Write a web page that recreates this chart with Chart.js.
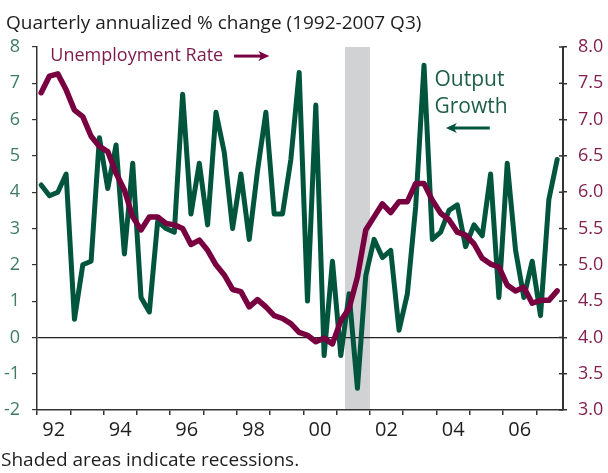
<!DOCTYPE html>
<html>
<head>
<meta charset="utf-8">
<script src="https://cdn.jsdelivr.net/npm/chart.js@4.4.1/dist/chart.umd.min.js"></script>
<style>
html,body{margin:0;padding:0;background:#fff;}
#wrap{position:relative;width:608px;height:473px;overflow:hidden;font-family:"Open Sans",sans-serif;}
#c{position:absolute;left:0;top:0;}
.txt{position:absolute;font-size:19px;line-height:19px;color:#1e1e1e;white-space:nowrap;}
#title{left:6px;top:13px;}
#note{left:1px;top:450px;}
</style>
</head>
<body>
<div id="wrap">
  <canvas id="c" width="608" height="473"></canvas>
  <div id="title" class="txt">Quarterly annualized % change (1992-2007 Q3)</div>
  <div id="note" class="txt">Shaded areas indicate recessions.</div>
</div>
<script>
// ---- data (quarterly, 1992 Q1 to 2007 Q3) ----
const startYear = 1992;
const outputGrowth = [
  4.2, 3.9, 4.0, 4.5,
  0.5, 2.0, 2.1, 5.5,
  4.1, 5.3, 2.3, 4.8,
  1.1, 0.7, 3.2, 3.0,
  2.9, 6.7, 3.4, 4.8,
  3.1, 6.2, 5.1, 3.0,
  4.5, 2.7, 4.6, 6.2,
  3.4, 3.4, 4.9, 7.3,
  1.0, 6.4, -0.5, 2.1,
  -0.5, 1.2, -1.4, 1.7,
  2.7, 2.2, 2.4, 0.2,
  1.2, 3.6, 7.5, 2.7,
  2.9, 3.5, 3.65, 2.5,
  3.1, 2.8, 4.5, 1.1,
  4.8, 2.4, 1.1, 2.1,
  0.6, 3.8, 4.9
];
const unemploymentRate = [
  7.37, 7.6, 7.63, 7.41,
  7.13, 7.04, 6.77, 6.63,
  6.56, 6.26, 6.03, 5.66,
  5.48, 5.66, 5.66, 5.57,
  5.55, 5.5, 5.28, 5.34,
  5.2, 5.0, 4.86, 4.66,
  4.63, 4.42, 4.52, 4.42,
  4.3, 4.26, 4.19, 4.07,
  4.03, 3.94, 3.99, 3.91,
  4.23, 4.4, 4.83, 5.48,
  5.66, 5.84, 5.72, 5.87,
  5.87, 6.12, 6.12, 5.89,
  5.71, 5.62, 5.45, 5.41,
  5.29, 5.09, 5.01, 4.97,
  4.72, 4.64, 4.69, 4.47,
  4.51, 4.51, 4.64
];
const recessions = [[2001.25, 2002.0]];
const yearTicks = [1992,1993,1994,1995,1996,1997,1998,1999,2000,2001,2002,2003,2004,2005,2006,2007];
const xLabelYears = [1992,1994,1996,1998,2000,2002,2004,2006];
const xTickLabels = ['92','94','96','98','00','02','04','06'];

// ---- styles ----
const GREEN = '#00553c';
const RED = '#780040';
const GREEN_LABEL = '#3f7c64';
const RED_LABEL = '#82204f';
const AXIS = '#333333';
const FONT = '"Open Sans", sans-serif';

Chart.defaults.font.family = FONT;

const qpos = i => startYear + (i + 0.5) / 4;

const recessionPlugin = {
  id: 'recessions',
  beforeDraw(chart) {
    const {ctx, chartArea: a, scales: {x}} = chart;
    ctx.save();
    ctx.fillStyle = '#d1d2d4';
    recessions.forEach(([s, e]) => {
      const x0 = x.getPixelForValue(s), x1 = x.getPixelForValue(e);
      ctx.fillRect(x0, a.top, x1 - x0, a.bottom - a.top);
    });
    ctx.restore();
  }
};

function arrow(ctx, x0, x1, y, color) {
  // x1 is the tip
  const dir = Math.sign(x1 - x0);
  ctx.save();
  ctx.strokeStyle = color;
  ctx.fillStyle = color;
  ctx.lineWidth = 3;
  ctx.beginPath();
  ctx.moveTo(x0, y);
  ctx.lineTo(x1 - dir * 6, y);
  ctx.stroke();
  ctx.beginPath();
  ctx.moveTo(x1, y);
  ctx.lineTo(x1 - dir * 11, y - 5);
  ctx.lineTo(x1 - dir * 8, y);
  ctx.lineTo(x1 - dir * 11, y + 5);
  ctx.closePath();
  ctx.fill();
  ctx.restore();
}

const notesPlugin = {
  id: 'notes',
  afterDraw(chart) {
    const {ctx, scales: {x, y}} = chart;
    ctx.save();
    ctx.textBaseline = 'middle';
    ctx.textAlign = 'left';
    ctx.font = '18px ' + FONT;
    ctx.fillStyle = '#7d1a4d';
    ctx.fillText('Unemployment Rate', x.getPixelForValue(1992.4), y.getPixelForValue(7.75));
    arrow(ctx, x.getPixelForValue(1997.92), x.getPixelForValue(1998.98), y.getPixelForValue(7.75), RED);
    ctx.font = '21px ' + FONT;
    ctx.fillStyle = '#1d5e48';
    ctx.fillText('Output', x.getPixelForValue(2003.94), y.getPixelForValue(7.1));
    ctx.fillText('Growth', x.getPixelForValue(2003.94), y.getPixelForValue(6.35));
    arrow(ctx, x.getPixelForValue(2005.6), x.getPixelForValue(2004.28), y.getPixelForValue(5.77), GREEN);
    // inner tick marks on the right axis
    const y2 = chart.scales.y2;
    ctx.strokeStyle = AXIS;
    ctx.lineWidth = 1.5;
    y2.ticks.forEach(t => {
      const py = y2.getPixelForValue(t.value);
      ctx.beginPath();
      ctx.moveTo(y2.left, py);
      ctx.lineTo(y2.left - 4, py);
      ctx.stroke();
    });
    ctx.restore();
  }
};

new Chart(document.getElementById('c'), {
  type: 'line',
  data: {
    datasets: [
      {
        label: 'Unemployment Rate',
        data: unemploymentRate.map((v, i) => ({x: qpos(i), y: v})),
        yAxisID: 'y2',
        borderColor: RED,
        borderWidth: 5.5,
        pointRadius: 0,
        tension: 0,
        borderJoinStyle: 'round',
        borderCapStyle: 'round',
        order: 0
      },
      {
        label: 'Output Growth',
        data: outputGrowth.map((v, i) => ({x: qpos(i), y: v})),
        yAxisID: 'y',
        borderColor: GREEN,
        borderWidth: 5,
        pointRadius: 0,
        tension: 0,
        borderJoinStyle: 'round',
        borderCapStyle: 'round',
        order: 1
      }
    ]
  },
  options: {
    responsive: false,
    animation: false,
    devicePixelRatio: 1,
    layout: {padding: {top: 47, left: 0, right: 0, bottom: 0}},
    plugins: {legend: {display: false}, tooltip: {enabled: false}},
    scales: {
      x: {
        type: 'linear',
        min: 1992,
        max: 2007.8,
        afterBuildTicks: s => {
          const vals = yearTicks.concat(xLabelYears.map(v => v + 0.5)).sort((a, b) => a - b);
          s.ticks = vals.map(v => ({value: v}));
        },
        afterFit: s => { s.height = 63; },
        ticks: {
          autoSkip: false,
          maxRotation: 0,
          padding: 3,
          color: '#1e1e1e',
          font: {size: 20},
          callback: v => {
            const k = xLabelYears.indexOf(v - 0.5);
            return k >= 0 ? xTickLabels[k] : '';
          }
        },
        grid: {
          drawOnChartArea: false,
          drawTicks: true,
          tickLength: 5,
          lineWidth: 1.5,
          color: c => (c.tick && Number.isInteger(c.tick.value)) ? AXIS : 'rgba(0,0,0,0)'
        },
        border: {display: true, color: AXIS, width: 1.5}
      },
      y: {
        position: 'left',
        min: -2,
        max: 8,
        afterFit: s => { s.width = 37; },
        ticks: {stepSize: 1, padding: 12, color: GREEN_LABEL, font: {size: 18}},
        grid: {
          drawOnChartArea: true,
          tickLength: 5,
          lineWidth: 1.2,
          color: c => (c.tick && c.tick.value === 0) ? '#222' : 'rgba(0,0,0,0)',
          tickColor: AXIS
        },
        border: {display: true, color: AXIS, width: 1.5}
      },
      y2: {
        position: 'right',
        min: 3,
        max: 8,
        afterFit: s => { s.width = 45; },
        ticks: {stepSize: 0.5, padding: 11, color: RED_LABEL, font: {size: 18}, callback: v => v.toFixed(1)},
        grid: {drawOnChartArea: false, tickLength: 4, lineWidth: 1.5, color: AXIS},
        border: {display: true, color: AXIS, width: 2}
      }
    }
  },
  plugins: [recessionPlugin, notesPlugin]
});
</script>
</body>
</html>
